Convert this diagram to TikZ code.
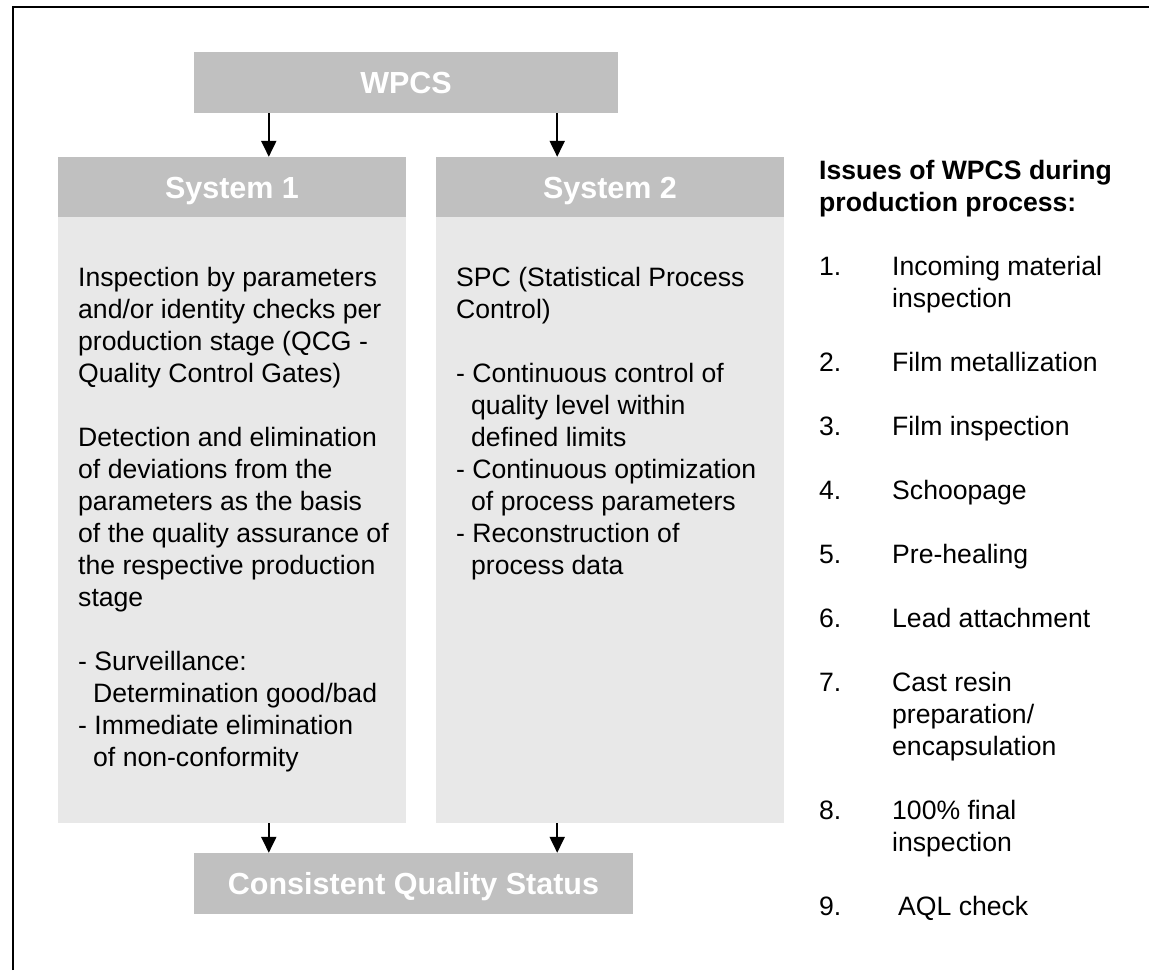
\documentclass[tikz,border=0pt]{standalone}
\usepackage{fontspec}
\setmainfont{Liberation Sans}
\usetikzlibrary{arrows.meta}
\definecolor{hdrgray}{RGB}{192,192,192}
\definecolor{bodygray}{RGB}{232,232,232}
\begin{document}
\begin{tikzpicture}[x=1pt,y=-1pt,
  hdr/.style={fill=hdrgray, draw=none, inner sep=0pt, text=white,
    text height=22pt, text depth=0pt,
    font=\fontsize{30.5}{36}\selectfont\bfseries},
  bodybox/.style={fill=bodygray, draw=none, inner sep=0pt},
  txt/.style={inner sep=0pt, anchor=base west, align=left,
    font=\fontsize{26.6}{32}\selectfont},
  btxt/.style={txt, font=\fontsize{26.6}{32}\selectfont\bfseries},
  arr/.style={line width=2pt, -{Triangle[length=16pt,width=15pt]}},
]
\path[use as bounding box] (0,0) rectangle (1149,970);
% frame (left and top edges only)
\draw[line width=2pt] (13,970) -- (13,7) -- (1149,7);

% boxes
\node[hdr, minimum width=424pt, minimum height=61pt] (wpcs) at (406,82.5) {WPCS};
\node[bodybox, minimum width=348pt, minimum height=606pt] (b1) at (232,520) {};
\node[bodybox, minimum width=348pt, minimum height=606pt] (b2) at (610,520) {};
\node[hdr, minimum width=348pt, minimum height=60pt] (h1) at (232,187) {System 1};
\node[hdr, minimum width=348pt, minimum height=60pt] (h2) at (610,187) {System 2};
\node[hdr, minimum width=439pt, minimum height=61pt] (cqs) at (413.5,883.5) {Consistent Quality Status};

% arrows
\draw[arr] ([xshift=75pt]wpcs.south west) -- ([xshift=75pt]wpcs.south west |- h1.north);
\draw[arr] ([xshift=-61pt]wpcs.south east) -- ([xshift=-61pt]wpcs.south east |- h2.north);
\draw[arr] ([xshift=75pt]cqs.north west |- b1.south) -- ([xshift=75pt]cqs.north west);
\draw[arr] ([xshift=-76pt]cqs.north east |- b2.south) -- ([xshift=-76pt]cqs.north east);

% System 1 text (anchored at the baseline of its last line)
\node[txt] (t1) at (78,766) {Inspection by parameters\\and/or identity checks per\\production stage (QCG -\\Quality Control Gates)\\[32pt]Detection and elimination\\of deviations from the\\parameters as the basis\\of the quality assurance of\\the respective production\\stage\\[32pt]- Surveillance:\\\hspace*{15pt}Determination good/bad\\- Immediate elimination\\\hspace*{15pt}of non-conformity};

% System 2 text
\node[txt] (t2) at (456,574) {SPC (Statistical Process\\Control)\\[32pt]- Continuous control of\\\hspace*{15pt}quality level within\\\hspace*{15pt}defined limits\\- Continuous optimization\\\hspace*{15pt}of process parameters\\- Reconstruction of\\\hspace*{15pt}process data};

% right column
\node[btxt] (hd) at (819,211) {Issues of WPCS during\\production process:};
\node[txt] (n1) at (819,275) {1.};
\node[txt] (i1) at (892,307) {Incoming material\\inspection};
\node[txt] (n2) at (819,371) {2.};
\node[txt] (i2) at (892,371) {Film metallization};
\node[txt] (n3) at (819,435) {3.};
\node[txt] (i3) at (892,435) {Film inspection};
\node[txt] (n4) at (819,499) {4.};
\node[txt] (i4) at (892,499) {Schoopage};
\node[txt] (n5) at (819,563) {5.};
\node[txt] (i5) at (892,563) {Pre-healing};
\node[txt] (n6) at (819,627) {6.};
\node[txt] (i6) at (892,627) {Lead attachment};
\node[txt] (n7) at (819,691) {7.};
\node[txt] (i7) at (892,755) {Cast resin\\preparation/\\encapsulation};
\node[txt] (n8) at (819,819) {8.};
\node[txt] (i8) at (892,851) {100\% final\\inspection};
\node[txt] (n9) at (819,915) {9.};
\node[txt] (i9) at (898,915) {AQL check};
\end{tikzpicture}
\end{document}
